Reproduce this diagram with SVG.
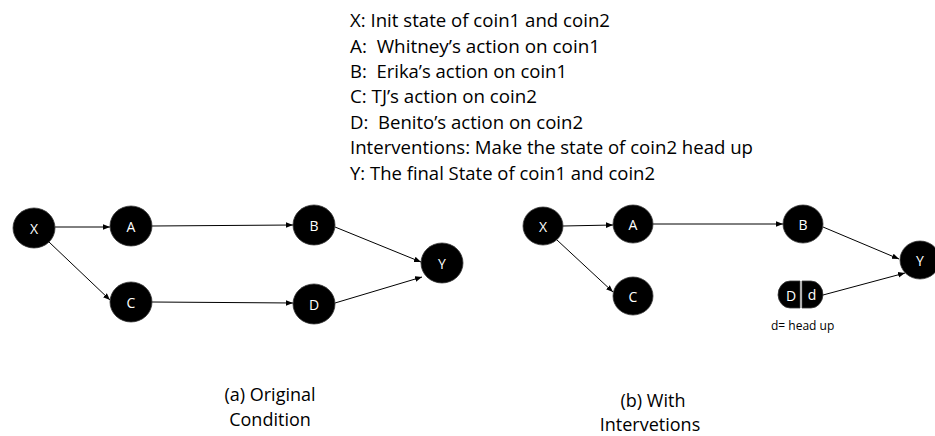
<svg xmlns="http://www.w3.org/2000/svg" width="935" height="436" viewBox="0 0 935 436">
<style>
.node{fill:#000;stroke:#3a3a3a;stroke-width:0.8}
.lbl{fill:#fff;font-family:"Open Sans","Liberation Sans",sans-serif;font-size:14px;text-anchor:middle;dominant-baseline:central}
.edge{stroke:#000;stroke-width:1;fill:none;marker-end:url(#ah)}
.txt{fill:#000;font-family:"Open Sans","Liberation Sans",sans-serif;font-size:18px}
.cap{fill:#000;font-family:"Open Sans","Liberation Sans",sans-serif;font-size:18px;text-anchor:middle}
</style>
<defs>
<marker id="ah" viewBox="0 0 10 10" refX="10" refY="5" markerWidth="7" markerHeight="7" markerUnits="userSpaceOnUse" orient="auto">
<path d="M0,1 L10,5 L0,9 z" fill="#000"/>
</marker>
</defs>
<g id="legend">
<text class="txt" x="350" y="27" textLength="260" lengthAdjust="spacingAndGlyphs">X: Init state of coin1 and coin2</text>
<text class="txt" x="350" y="53" textLength="250" lengthAdjust="spacingAndGlyphs" xml:space="preserve">A:  Whitney’s action on coin1</text>
<text class="txt" x="350" y="78" textLength="217" lengthAdjust="spacingAndGlyphs" xml:space="preserve">B:  Erika’s action on coin1</text>
<text class="txt" x="350" y="103" textLength="187" lengthAdjust="spacingAndGlyphs">C: TJ’s action on coin2</text>
<text class="txt" x="350" y="129" textLength="233" lengthAdjust="spacingAndGlyphs" xml:space="preserve">D:  Benito’s action on coin2</text>
<text class="txt" x="350" y="154" textLength="403" lengthAdjust="spacingAndGlyphs">Interventions: Make the state of coin2 head up</text>
<text class="txt" x="350" y="180" textLength="305" lengthAdjust="spacingAndGlyphs">Y: The final State of coin1 and coin2</text>
</g>
<g id="connectors">
<line class="edge" x1="55" y1="227" x2="110" y2="227"/>
<line class="edge" x1="49" y1="242" x2="110" y2="300"/>
<line class="edge" x1="152" y1="226" x2="293" y2="225"/>
<line class="edge" x1="335" y1="227" x2="421" y2="262"/>
<line class="edge" x1="152" y1="302" x2="293" y2="303"/>
<line class="edge" x1="335" y1="303" x2="422" y2="277"/>
<line class="edge" x1="563" y1="226" x2="613" y2="225"/>
<line class="edge" x1="557" y1="240" x2="613" y2="292"/>
<line class="edge" x1="653" y1="224" x2="783" y2="224"/>
<line class="edge" x1="823" y1="227" x2="899" y2="259"/>
<line class="edge" x1="823" y1="295" x2="905" y2="273"/>
</g>
<g id="a-X"><ellipse class="node" cx="34" cy="228" rx="21" ry="20"/><text class="lbl" x="34" y="228">X</text></g>
<g id="a-A"><ellipse class="node" cx="131" cy="226" rx="21" ry="20"/><text class="lbl" x="131" y="226">A</text></g>
<g id="a-B"><ellipse class="node" cx="314" cy="225" rx="21" ry="20"/><text class="lbl" x="314" y="225">B</text></g>
<g id="a-Y"><ellipse class="node" cx="442" cy="263" rx="21" ry="20"/><text class="lbl" x="442" y="263">Y</text></g>
<g id="a-C"><ellipse class="node" cx="131" cy="302" rx="21" ry="20"/><text class="lbl" x="131" y="302">C</text></g>
<g id="a-D"><ellipse class="node" cx="314" cy="304" rx="21" ry="20"/><text class="lbl" x="314" y="304">D</text></g>
<g id="b-X"><ellipse class="node" cx="543" cy="226" rx="20" ry="19"/><text class="lbl" x="543" y="226">X</text></g>
<g id="b-A"><ellipse class="node" cx="633" cy="224" rx="20" ry="19"/><text class="lbl" x="633" y="224">A</text></g>
<g id="b-B"><ellipse class="node" cx="803" cy="224" rx="20" ry="19"/><text class="lbl" x="803" y="224">B</text></g>
<g id="b-Y"><ellipse class="node" cx="920" cy="260" rx="20" ry="19"/><text class="lbl" x="920" y="260">Y</text></g>
<g id="b-C"><ellipse class="node" cx="633" cy="296" rx="20" ry="19"/><text class="lbl" x="633" y="296">C</text></g>
<g id="b-Dd">
<path class="node" d="M800,281 L790,281 A12,14 0 0 0 778,295 A12,14 0 0 0 790,308 L800,308 Z"/>
<path class="node" d="M802,281 L811,281 A12,14 0 0 1 823,295 A12,14 0 0 1 811,308 L802,308 Z"/>
<text class="lbl" x="791" y="295">D</text>
<text class="lbl" x="812" y="294">d</text>
<text x="771" y="330" style="font-family:'Open Sans','Liberation Sans',sans-serif;font-size:12px;fill:#000">d= head up</text>
</g>
<g id="captions">
<text class="cap" x="270" y="401">(a) Original</text>
<text class="cap" x="270" y="426">Condition</text>
<text class="cap" x="653" y="407">(b) With</text>
<text class="cap" x="650" y="431">Intervetions</text>
</g>
</svg>
